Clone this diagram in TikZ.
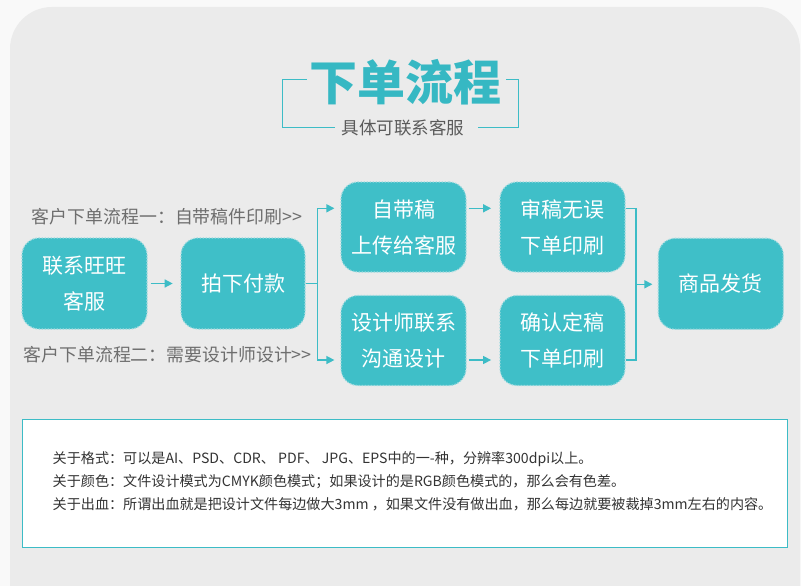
\documentclass[tikz,border=0pt]{standalone}
\usepackage{fontspec}
\setmainfont{Noto Sans CJK SC}
\usetikzlibrary{arrows.meta}
\definecolor{tealfill}{HTML}{3FBFC8}
\definecolor{tealline}{HTML}{3DBCC6}
\definecolor{tealdot}{HTML}{9CDADF}
\definecolor{titlemain}{HTML}{36B8C3}
\definecolor{graybg}{HTML}{EBEBEB}
\definecolor{outerbg}{HTML}{F9F9F9}
\definecolor{lblgray}{HTML}{6E6E6E}
\definecolor{subgray}{HTML}{5A5A5A}
\definecolor{infotext}{HTML}{333333}
\tikzset{
  flowbox/.style={rectangle, rounded corners=17pt, fill=tealfill, draw=tealdot,
    line width=1.2pt, dash pattern=on 1.5pt off 1.5pt, text=white,
    minimum width=125pt, minimum height=90pt, inner sep=0pt, align=center,
    font=\fontsize{21}{36}\selectfont},
  conn/.style={draw=tealline, line width=1.4pt, -{Triangle[length=8pt,width=8pt]}},
  plainline/.style={draw=tealline, line width=1.4pt},
  lbl/.style={text=lblgray, font=\fontsize{17.9}{20}\selectfont, inner sep=0pt, anchor=west},
  infoline/.style={text=infotext, font=\fontsize{14.1}{16}\selectfont, inner sep=0pt, anchor=west},
  titlefont/.style={font=\fontsize{48}{48}\selectfont\bfseries, inner sep=0pt}
}
\newcommand{\gtgt}{>\kern0pt>}
\begin{document}
\begin{tikzpicture}[x=1pt,y=-1pt]
\useasboundingbox (0,0) rectangle (801,586);
\fill[outerbg] (0,0) rectangle (801,586);
\begin{scope}
  \clip (0,0) rectangle (801,586);
  \fill[graybg, rounded corners=42pt] (10,7) rectangle (800,660);
\end{scope}

% title
\node[titlefont, text=titlemain] (title) at (405,82) {下单流程};
\node[text=subgray, font=\fontsize{17.5}{20}\selectfont, inner sep=0pt] (sub) at (403,128) {具体可联系客服};
\draw[plainline, line width=1.5pt] (306.7,79.3) -- (282.3,79.3) -- (282.3,127.3) -- (335,127.3);
\draw[plainline, line width=1.5pt] (506,79.3) -- (518.3,79.3) -- (518.3,127.3) -- (478,127.3);

% flow nodes
\node[flowbox, minimum height=91pt] (A) at (84.5,283.5) {联系旺旺\\客服};
\node[flowbox, minimum width=124pt, minimum height=91pt] (B) at (243,283.5) {拍下付款};
\node[flowbox] (C) at (403.5,227) {自带稿\\上传给客服};
\node[flowbox] (D) at (562.5,227) {审稿无误\\下单印刷};
\node[flowbox] (E) at (403.5,340.5) {设计师联系\\沟通设计};
\node[flowbox] (F) at (562.5,340.5) {确认定稿\\下单印刷};
\node[flowbox, minimum height=91pt] (G) at (720.8,283.8) {商品发货};

% labels
\node[lbl] (l1) at (31.7,216.7) {客户下单流程一：自带稿件印刷\gtgt};
\node[lbl] (l2) at (23.3,355) {客户下单流程二：需要设计师设计\gtgt};

% connectors
\coordinate (bj) at (317.3,284.3);
\coordinate (ct) at ([yshift=18.7pt]C.west);
\coordinate (cb) at ([yshift=-19.5pt]E.west);
\coordinate (rj) at (636,284.3);

\draw[conn, shorten <=3pt, shorten >=7.7pt] (A.east) -- (B.west);
\draw[plainline] (B.east) -- (B.east -| bj);
\draw[conn, shorten >=6pt] (B.east -| bj) |- (ct);
\draw[conn, shorten >=6pt] (B.east -| bj) |- (cb);
\draw[conn, shorten <=2.3pt, shorten >=8.3pt] (ct -| C.east) -- (ct -| D.west);
\draw[conn, shorten <=2.3pt, shorten >=8.3pt] (cb -| E.east) -- (cb -| F.west);
\draw[plainline] (ct -| D.east) -- (ct -| rj) -- (cb -| rj) -- (cb -| F.east);
\draw[conn, shorten >=5.3pt] (rj) -- (rj -| G.west);

% info box
\node[rectangle, fill=white, draw=tealline, line width=1.3pt, minimum width=765pt, minimum height=128pt, inner sep=0pt] (info) at (405.1,483.3) {};
\node[infoline] (i1) at (52.5,459.5) {关于格式：可以是AI、PSD、CDR、 PDF、 JPG、EPS中的一-种，分辨率300dpi以上。};
\node[infoline] (i2) at (52.5,482) {关于颜色：文件设计模式为CMYK颜色模式；如果设计的是RGB颜色模式的，那么会有色差。};
\node[infoline] (i3) at (52.5,504.5) {关于出血：所谓出血就是把设计文件每边做大3mm ，如果文件没有做出血，那么每边就要被裁掉3mm左右的内容。};
\end{tikzpicture}
\end{document}
